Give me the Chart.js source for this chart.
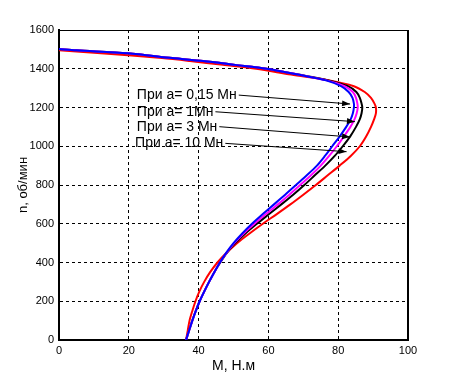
<!DOCTYPE html>
<html lang="ru">
<head>
<meta charset="UTF-8">
<title>Механические характеристики</title>
<script src="https://cdn.jsdelivr.net/npm/chart.js"></script>
<style>
    html, body { margin: 0; padding: 0; background: #fff; }
</style>
</head>
<body>
<canvas id="mnChart" width="452" height="383"></canvas>
<script>
    // скорость, об/мин (общая для всех кривых)
    const oboroty = [1502, 1495, 1480, 1455, 1440, 1420, 1400, 1370, 1340, 1310, 1280, 1250, 1220, 1200, 1170, 1140,
                     1100, 1050, 1000, 950, 900, 850, 800, 750, 700, 650, 600, 550, 500, 450, 400, 350, 300, 250, 200, 150, 100, 50, 0];
    // момент, Н.м
    const mA015 = [0, 5, 19.7, 32.5, 41.3, 50.5, 59.5, 68.5, 76.5, 80.8, 83.0, 84.1, 84.5, 84.5, 84.2, 83.6,
                   82.3, 80.4, 78.3, 76.2, 73.9, 71.0, 67.9, 64.8, 61.6, 58.4, 55.3, 52.5, 50.0, 47.9, 46.1, 44.5, 43.0, 41.6, 40.3, 39.2, 38.2, 37.3, 36.4];
    const mA1 = [0, 5, 19.7, 32.5, 41.3, 50.5, 59.5, 68.5, 76.7, 81.8, 84.2, 85.1, 85.5, 85.6, 85.3, 84.7,
                 83.5, 81.6, 79.6, 77.4, 75.0, 72.2, 69.1, 66.0, 62.7, 59.3, 56.0, 52.9, 50.2, 48.0, 46.1, 44.5, 43.0, 41.6, 40.3, 39.2, 38.2, 37.3, 36.4];
    const mA3 = [0, 5, 19.7, 32.5, 41.3, 50.5, 59.5, 68.6, 77.2, 82.8, 85.2, 86.2, 86.7, 86.9, 86.7, 86.2,
                 85.1, 83.4, 81.3, 79.0, 76.3, 73.3, 70.3, 67.1, 63.7, 60.2, 56.7, 53.4, 50.5, 48.1, 46.2, 44.5, 43.0, 41.6, 40.3, 39.2, 38.2, 37.3, 36.4];
    const mA10 = [null, 0, 12, 29.5, 37.5, 47, 56.5, 66.5, 77.5, 84.5, 87.6, 89.4, 90.4, 90.8, 90.8, 90.3,
                  89.4, 88.0, 86.2, 83.6, 80.4, 77.0, 73.6, 70.0, 66.3, 62.4, 58.4, 54.6, 51.0, 48.0, 45.4, 43.3, 41.6, 40.2, 39.1, 38.2, 37.4, 36.9, 36.4];
    const podpisi = ["При а= 0,15 Мн", "При а= 1Мн", "При а= 3 Мн", "При а= 10 Мн"];

    const tochki = m => oboroty.map((n, i) => ({ x: m[i], y: n }));

    // подписи со стрелками (в координатах графика)
    const strelki = [
        { textM: 22.3, textN: 1264, M: 83.4, n: 1218 },
        { textM: 22.3, textN: 1178, M: 84.8, n: 1127 },
        { textM: 22.3, textN: 1101, M: 83.4, n: 1048 },
        { textM: 21.8, textN: 1015, M: 82.4, n: 972 }
    ];

    const podpisiPlugin = {
        id: 'podpisi',
        afterDatasetsDraw(chart) {
            const { ctx, scales: { x, y }, chartArea: a } = chart;
            ctx.save();
            ctx.font = '14px "Liberation Sans", Arial, sans-serif';
            ctx.fillStyle = '#000';
            ctx.strokeStyle = '#000';
            ctx.lineWidth = 1;
            ctx.textBaseline = 'middle';
            strelki.forEach((s, i) => {
                const tx = x.getPixelForValue(s.textM), ty = y.getPixelForValue(s.textN);
                ctx.fillText(podpisi[i], tx, ty);
                const x0 = tx + ctx.measureText(podpisi[i]).width + 2;
                const x1 = x.getPixelForValue(s.M), y1 = y.getPixelForValue(s.n);
                ctx.beginPath();
                ctx.moveTo(x0, ty);
                ctx.lineTo(x1, y1);
                ctx.stroke();
                const ang = Math.atan2(y1 - ty, x1 - x0);
                const c = Math.cos(ang), sn = Math.sin(ang);
                ctx.beginPath();
                ctx.moveTo(x1, y1);
                ctx.lineTo(x1 - 8 * c + 3 * sn, y1 - 8 * sn - 3 * c);
                ctx.lineTo(x1 - 8 * c - 3 * sn, y1 - 8 * sn + 3 * c);
                ctx.closePath();
                ctx.fill();
            });
            // рамка
            ctx.lineWidth = 1;
            ctx.beginPath();
            ctx.moveTo(a.left, a.top + 0.5);
            ctx.lineTo(a.right, a.top + 0.5);
            ctx.stroke();
            ctx.lineWidth = 2;
            ctx.beginPath();
            ctx.moveTo(a.right, a.top);
            ctx.lineTo(a.right, a.bottom);
            ctx.stroke();
            ctx.restore();
        }
    };

    const shrift = { family: '"Liberation Sans", Arial, sans-serif', size: 11 };

    new Chart(document.getElementById("mnChart"), {
        type: 'scatter',
        data: {
            datasets: [
                { label: "а = 0,15 Мн", data: tochki(mA015), borderColor: "#0000ff" },
                { label: "а = 1 Мн", data: tochki(mA1), borderColor: "#ff00ff" },
                { label: "а = 3 Мн", data: tochki(mA3), borderColor: "#000000" },
                { label: "а = 10 Мн", data: tochki(mA10), borderColor: "#ff0000" }
            ].map(d => Object.assign(d, { showLine: true, pointRadius: 0, borderWidth: 2, tension: 0.3, fill: false }))
        },
        options: {
            responsive: false,
            animation: false,
            layout: { padding: { left: 0, right: 44, top: 30, bottom: 0 } },
            plugins: { legend: { display: false }, tooltip: { enabled: false } },
            scales: {
                x: {
                    type: 'linear', min: 0, max: 100,
                    ticks: { stepSize: 20, color: '#000', font: shrift, padding: 4, maxRotation: 0, callback: v => String(v) },
                    grid: { color: '#000', lineWidth: 1, drawTicks: false },
                    border: { display: true, color: '#000', width: 2, dash: [3, 3] },
                    title: { display: true, text: 'M, Н.м', color: '#000', font: { family: shrift.family, size: 14 }, padding: { top: 0, bottom: 8 } },
                    afterFit: s => { s.height = 43; }
                },
                y: {
                    type: 'linear', min: 0, max: 1600,
                    ticks: { stepSize: 200, color: '#000', font: shrift, padding: 5, callback: v => String(v) },
                    grid: { color: '#000', lineWidth: 1, drawTicks: false },
                    border: { display: true, color: '#000', width: 2, dash: [3, 3] },
                    title: { display: true, text: 'n, об/мин', color: '#000', font: { family: shrift.family, size: 13 }, padding: { top: 16, bottom: 0 } },
                    afterFit: s => { s.width = 59; }
                }
            }
        },
        plugins: [podpisiPlugin]
    });
</script>
</body>
</html>
